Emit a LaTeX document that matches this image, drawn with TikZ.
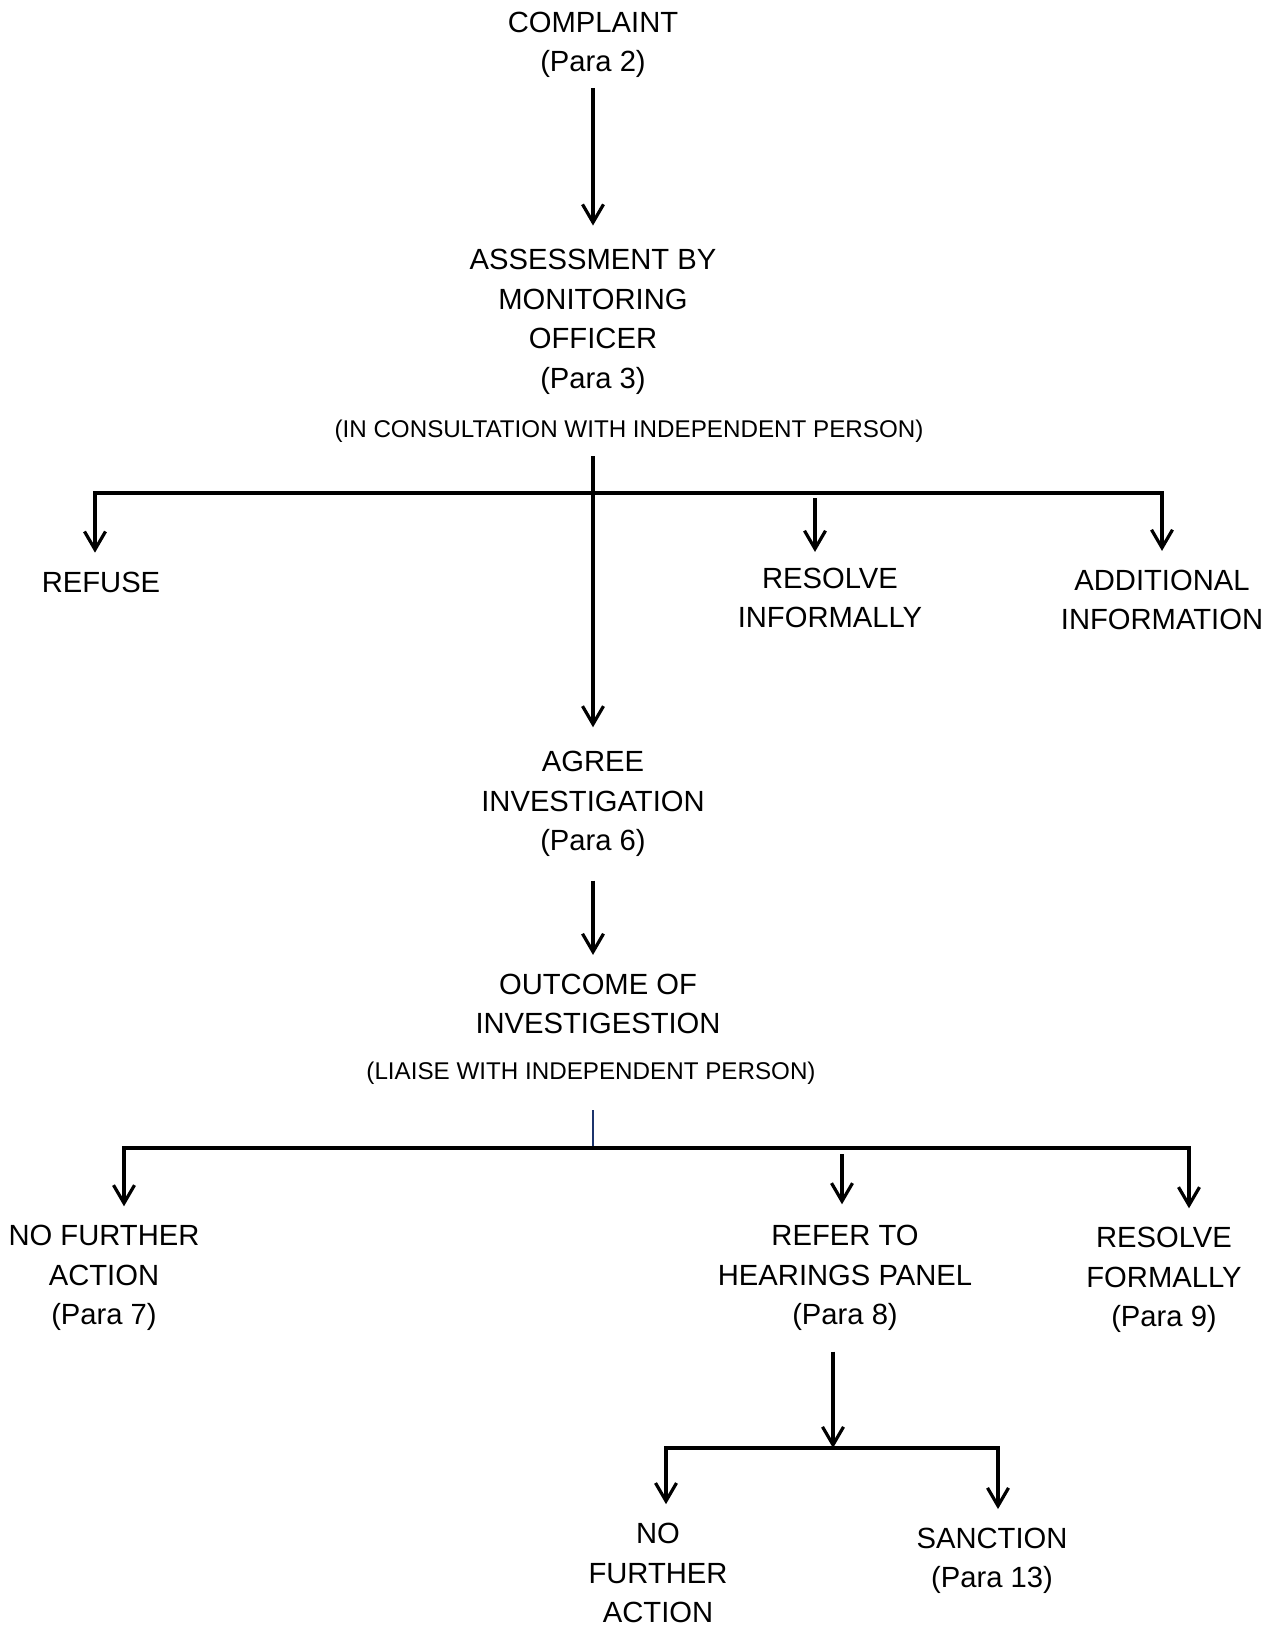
\documentclass[tikz,border=0pt]{standalone}
\usepackage{fontspec}
\setmainfont{Liberation Sans}
\usetikzlibrary{arrows.meta, positioning}

\tikzset{
  lbl/.style={align=center, inner sep=0pt, outer xsep=0pt, outer ysep=9.5pt,
    font=\fontsize{14.6pt}{19.75pt}\selectfont},
  note/.style={lbl, font=\fontsize{12.1pt}{14pt}\selectfont},
  line/.style={line width=1.6pt},
  stub/.style={line width=1.4pt, draw={rgb,255:red,28;green,52;blue,108}},
}

\begin{document}
\begin{tikzpicture}[x=0.5pt, y=-0.5pt, >={Straight Barb[length=9pt,width=10.5pt]}]
  \useasboundingbox (0,0) rectangle (1275,1627);
  % text
  \node[lbl, outer ysep=5pt] (complaint) at (593,45) {COMPLAINT\\(Para 2)};
  \node[lbl, outer ysep=12pt] (assess) at (593,322) {ASSESSMENT BY\\MONITORING\\OFFICER\\(Para 3)};
  \node[note, outer ysep=7pt] (consult) at (629,431) {(IN CONSULTATION WITH INDEPENDENT PERSON)};
  \node[lbl] (refuse) at (101,582) {REFUSE};
  \node[lbl, outer ysep=8pt] (resinf) at (830,598) {RESOLVE\\INFORMALLY};
  \node[lbl] (addinfo) at (1162,600) {ADDITIONAL\\INFORMATION};
  \node[lbl, outer ysep=12pt] (agree) at (593,804) {AGREE\\INVESTIGATION\\(Para 6)};
  \node[lbl] (outcome) at (598,1004) {OUTCOME OF\\INVESTIGESTION};
  \node[note, outer ysep=13pt] (liaise) at (591,1073) {(LIAISE WITH INDEPENDENT PERSON)};
  \node[lbl] (nfa) at (104,1278) {NO FURTHER\\ACTION\\(Para 7)};
  \node[lbl, outer ysep=10.5pt] (refer) at (845,1278) {REFER TO\\HEARINGS PANEL\\(Para 8)};
  \node[lbl] (resform) at (1164,1280) {RESOLVE\\FORMALLY\\(Para 9)};
  \node[lbl] (nfa2) at (658,1573) {NO\\FURTHER\\ACTION};
  \node[lbl] (sanction) at (992,1561) {SANCTION\\(Para 13)};
  % branch points
  \coordinate (b1l) at (95,493);
  \coordinate (b1m) at (815,493);
  \coordinate (b1r) at (1162,493);
  \coordinate (bar2) at (593,1148);
  \coordinate (b2l) at (124,1148);
  \coordinate (b2m) at (842,1148);
  \coordinate (b2r) at (1189,1148);
  \coordinate (bar3) at (833,1448);
  \coordinate (b3l) at (666,1448);
  \coordinate (b3r) at (998,1448);
  % connectors
  \draw[line, ->] (complaint) -- (assess);
  \draw[line, ->] (assess |- consult.south) -- (agree.north);
  \draw[line, <->] (b1l |- refuse.north) -- (b1l) -- (b1r) -- (b1r |- addinfo.north);
  \draw[line, ->] ([yshift=-2.5pt]b1m) -- (b1m |- resinf.north);
  \draw[line, ->] (agree.south) -- (agree.south |- outcome.north);
  \draw[stub] (bar2 |- liaise.south) -- (bar2);
  \draw[line, <->] (b2l |- nfa.north) -- (b2l) -- (b2r) -- (b2r |- resform.north);
  \draw[line, ->] ([yshift=-3pt]b2m) -- (b2m |- refer.north);
  \draw[line, ->] (bar3 |- refer.south) -- (bar3);
  \draw[line, <->] (b3l |- nfa2.north) -- (b3l) -- (b3r) -- (b3r |- sanction.north);
\end{tikzpicture}
\end{document}
